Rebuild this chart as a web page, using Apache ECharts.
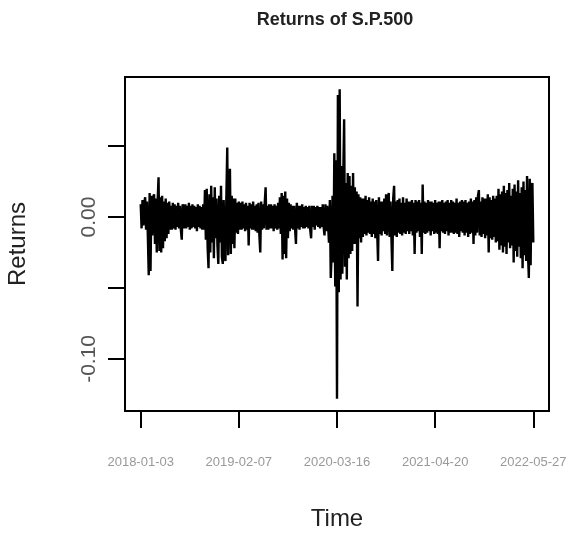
<!DOCTYPE html>
<html>
<head>
<meta charset="utf-8">
<script src="https://cdn.jsdelivr.net/npm/echarts@6/dist/echarts.min.js"></script>
<style>
  html, body { margin: 0; padding: 0; background: #fff; }
  #chart { width: 569px; height: 534px; }
</style>
</head>
<body>
<div id="chart"></div>
<script>
// daily returns of S&P 500 (percent, ~2.5 trading days per value)
const returnsPct = [
  0.9, -0.8, 1.2, -0.6, 1.0, 1.4, -0.9, 1.1, -1.3, -4.1,
  1.7, -3.8, 1.5, -1.3, 1.4, 1.6, -1.9, 1.3, -2.5, 1.2,
  2.8, -2.4, 1.4, -2.5, 1.5, -2.2, 1.1, -1.7, 1.3, -1.5,
  1.0, -1.2, 1.1, -0.9, 0.8, -0.9, 1.0, -0.8, 0.9, -0.9,
  0.8, -0.7, 1.0, -0.8, 0.8, -0.9, -1.6, 0.9, 0.7, -0.8,
  0.9, -0.8, 0.8, -0.7, 1.0, -0.9, 0.8, -0.8, 0.9, -0.7,
  0.8, -0.8, 0.7, -1.0, 0.9, -0.7, 0.8, -0.8, 0.7, -0.9,
  0.9, -0.9, 1.9, -1.6, 2.0, -2.1, -3.6, 1.6, -2.5, 2.2,
  -1.8, 1.4, -2.9, 2.1, -1.5, 1.3, -2.0, -3.3, 1.5, -1.8,
  2.2, -2.8, -3.3, 1.2, -2.7, -3.1, 1.4, 4.9, -2.7, 1.2,
  3.4, -2.6, 1.5, -1.9, 1.3, -2.2, 1.3, -1.1, 1.0, -1.2,
  1.1, -0.9, 1.0, -0.9, 1.1, -0.8, 0.9, -1.0, 1.0, -0.9,
  0.8, -2.0, 1.0, -0.8, 0.9, -0.9, 1.1, -0.9, 0.8, -1.0,
  0.9, -1.1, 1.0, -1.3, -2.5, 1.1, -0.9, 0.9, -0.8, 1.0,
  2.1, -0.9, 0.8, -0.9, 0.9, -0.8, 0.9, -0.8, 0.8, -1.0,
  0.9, -0.8, 0.8, -0.9, 1.0, -0.8, 1.4, -1.2, 1.7, -3.0,
  1.5, -2.6, 1.8, -2.9, 1.3, -1.5, 1.0, -1.0, 0.9, -0.8,
  0.8, -0.9, 0.8, -0.8, -1.9, 1.0, -0.8, 0.8, -0.9, 0.8,
  -0.7, 0.9, -0.8, 0.7, -0.8, 0.8, -0.7, 0.7, -0.8, 0.8,
  -0.9, -1.5, 0.8, -0.7, 0.8, -0.9, 0.7, -0.6, 0.8, -0.7,
  0.7, -0.8, 0.7, -0.7, 0.9, -0.7, -1.3, 0.9, -1.0, 0.8,
  0.9, -1.8, 1.2, -4.3, -2.6, 1.5, -3.2, 4.5, -4.9, 4.0,
  -12.8, 8.6, -5.3, 9.0, -4.4, 3.6, -4.0, 2.8, 6.9, -3.5,
  2.4, -4.4, 3.1, -2.9, 2.9, -2.6, 2.2, -2.4, 3.1, -1.9,
  2.1, -1.9, 1.8, -6.3, 1.6, -1.5, 1.4, -1.8, 1.3, -1.4,
  1.3, -1.2, 1.5, -1.3, 1.2, -1.1, 1.4, -1.2, 1.1, -1.4,
  1.3, -1.2, 1.1, -1.5, 1.2, -1.0, -3.1, 1.4, -1.2, 1.1,
  -1.3, 1.1, -1.0, 1.3, -1.2, 1.6, -1.3, 1.1, 1.7, -1.4,
  1.1, -1.5, -3.8, 1.3, 2.2, -1.3, 1.1, -1.4, 1.2, -1.1,
  1.3, -1.2, 1.0, -1.3, 1.4, -1.1, 1.0, -1.2, 1.3, -1.0,
  1.1, -1.2, 1.1, -1.0, 1.2, -1.3, 1.0, -2.6, 1.2, -1.1,
  1.1, -1.0, 1.2, -1.4, 1.0, -2.6, 2.3, -1.1, 1.1, -1.2,
  1.0, -1.1, 1.2, -1.0, 1.1, -1.3, 1.1, -1.0, 1.0, -1.2,
  1.2, -1.1, 1.0, -1.2, 1.1, -2.2, 1.1, -1.0, 1.2, -1.1,
  1.0, -1.2, 1.1, -1.0, 1.2, -1.3, 1.0, -1.1, 1.2, -1.1,
  1.1, -1.2, 1.0, -1.1, 1.3, -1.2, 1.0, -1.4, 1.1, -1.0,
  1.2, -1.1, 1.1, -1.3, 1.2, -1.1, 1.0, -1.4, 1.1, -1.2,
  1.3, -1.1, 1.1, -1.9, 1.2, -1.3, 1.4, -1.1, 1.5, 1.9,
  -1.3, 1.1, -1.4, 1.4, -1.2, 1.3, -1.5, 1.3, -1.3, 1.6,
  -2.5, 1.4, -1.5, 1.2, -1.6, 1.5, -1.4, 1.3, -1.8, 1.5,
  -1.7, 2.0, -2.3, 1.6, -2.0, 1.8, -2.5, 2.2, -2.1, 1.7,
  -2.6, 1.9, -1.8, 2.4, -2.2, 1.5, -2.0, 2.0, -3.2, 2.3,
  -2.4, 1.8, -2.8, 2.6, -2.1, 1.7, -2.9, 2.1, -3.6, 2.5,
  -2.7, 1.9, -3.1, 2.9, -2.5, -4.3, 2.7, -3.4, 2.2, 2.4, -1.8
]

// x tick positions (index into returnsPct) and their date labels
const tickIndex = [0, 110, 220, 330, 440]
const tickLabels = ['2018-01-03', '2019-02-07', '2020-03-16', '2021-04-20', '2022-05-27']

// y ticks, only some of them get a label (like R drops overlapping ones)
const yTicks = [-0.10, -0.05, 0.00, 0.05]
const yLabelTicks = [-0.10, 0.00]

const returns = returnsPct.map(v => v / 100)
const seriesData = returns.map((v, i) => [i, v])

// R style 4% padding on each axis
const n = returns.length
const xPad = (n - 1) * 0.04
const yMin = Math.min(...returns)
const yMax = Math.max(...returns)
const yPad = (yMax - yMin) * 0.04

const font = 'Liberation Sans, Arial, sans-serif'

const chart = echarts.init(document.getElementById('chart'))

chart.setOption({
  animation: false,
  title: {
    text: 'Returns of S.P.500',
    left: 330,
    top: 6,
    textAlign: 'center',
    textStyle: { fontFamily: font, fontSize: 18, fontWeight: 'bold', color: '#222' }
  },
  grid: {
    left: 125,
    right: 20,
    top: 77,
    bottom: 123,
    outerBoundsMode: 'none',
    show: true,
    borderColor: '#000',
    borderWidth: 2,
    backgroundColor: 'transparent'
  },
  xAxis: {
    type: 'value',
    min: -xPad,
    max: n - 1 + xPad,
    name: 'Time',
    nameLocation: 'middle',
    nameGap: 96,
    nameTextStyle: { fontFamily: font, fontSize: 24, color: '#222' },
    axisLine: { show: false, onZero: false },
    splitLine: { show: false },
    axisTick: {
      customValues: tickIndex,
      inside: false,
      length: 17,
      lineStyle: { color: '#000', width: 2 }
    },
    axisLabel: {
      customValues: tickIndex,
      margin: 45,
      fontFamily: font,
      fontSize: 13,
      color: '#999',
      formatter: v => tickLabels[tickIndex.indexOf(Math.round(v))] || ''
    }
  },
  yAxis: {
    type: 'value',
    min: yMin - yPad,
    max: yMax + yPad,
    name: 'Returns',
    nameLocation: 'middle',
    nameGap: 95,
    nameTextStyle: { fontFamily: font, fontSize: 24, color: '#222' },
    axisLine: { show: false, onZero: false },
    splitLine: { show: false },
    axisTick: {
      customValues: yTicks,
      inside: false,
      length: 17,
      lineStyle: { color: '#000', width: 2 }
    },
    axisLabel: {
      customValues: yLabelTicks,
      rotate: 90,
      margin: 25,
      fontFamily: font,
      fontSize: 21,
      color: '#555',
      formatter: v => v.toFixed(2)
    }
  },
  series: [
    {
      type: 'line',
      data: seriesData,
      showSymbol: false,
      lineStyle: { color: '#000', width: 2.4 },
      silent: true
    }
  ]
})
</script>
</body>
</html>
